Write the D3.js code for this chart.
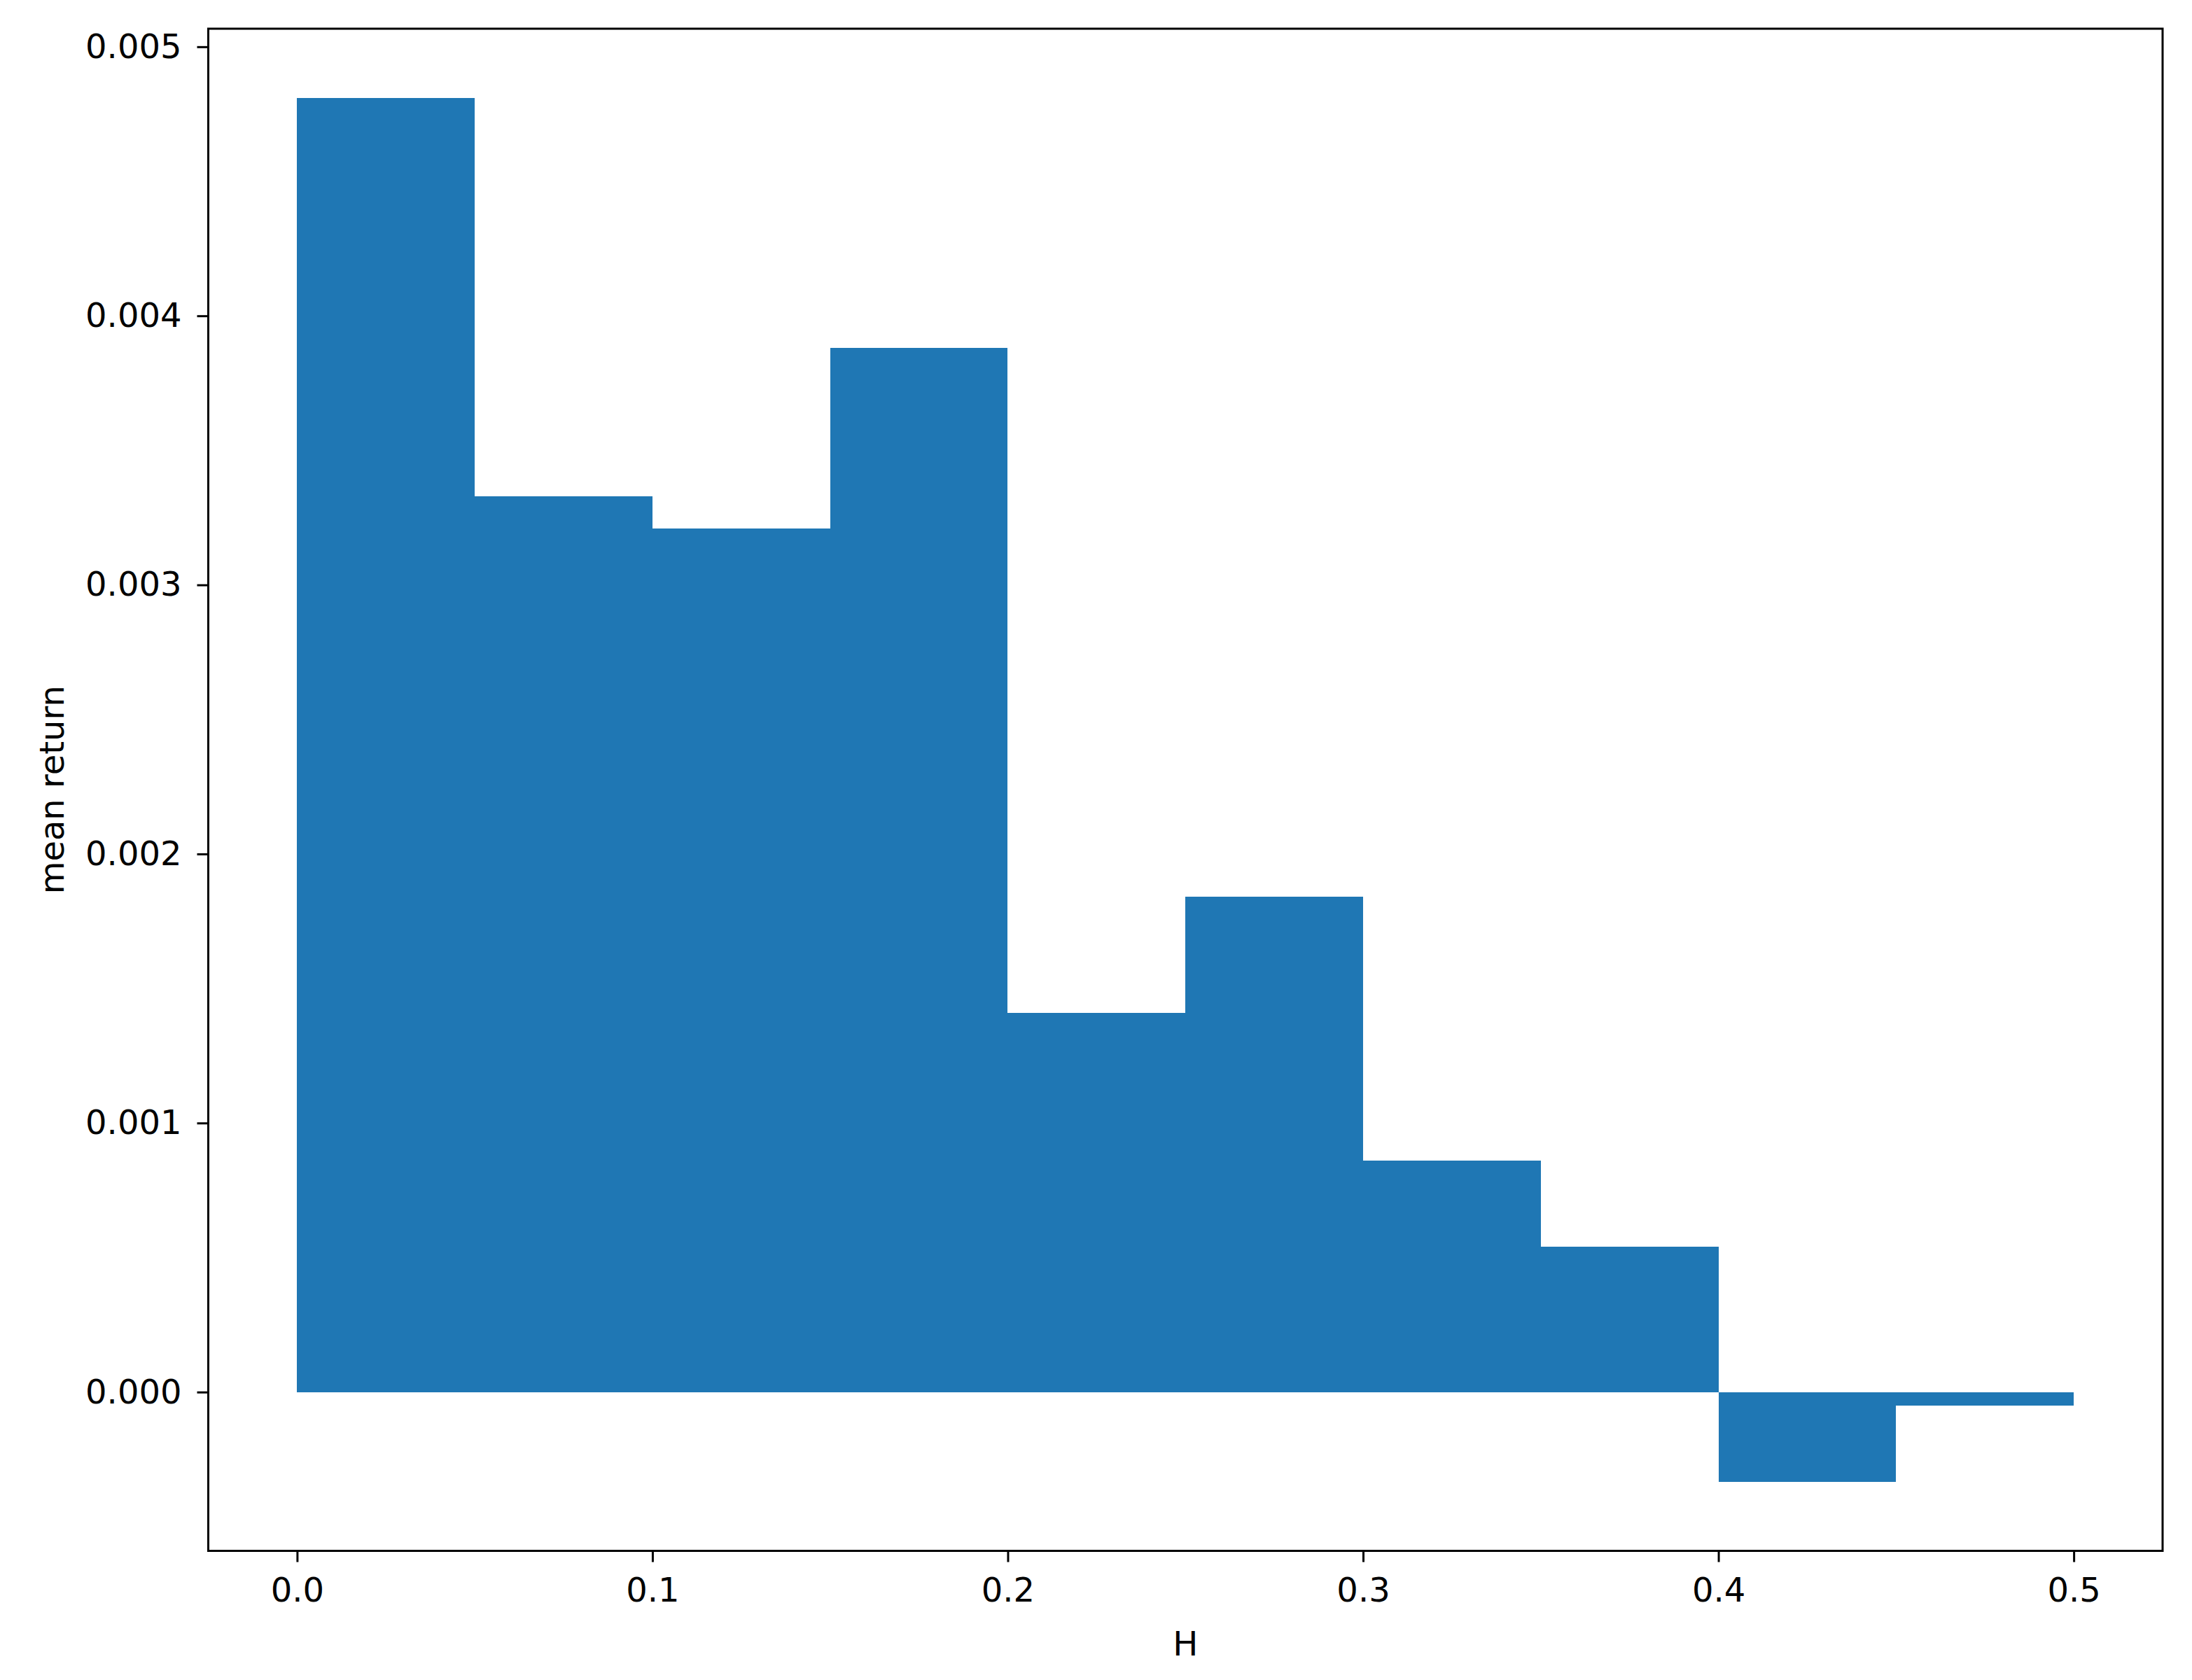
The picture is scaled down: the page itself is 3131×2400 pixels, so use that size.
<!DOCTYPE html>
<html>
<head>
<meta charset="utf-8">
<script src="https://cdn.jsdelivr.net/npm/d3@7"></script>
<style>
  body { margin: 0; background: #fff; }
  svg { display: block; }
  text { font-family: "DejaVu Sans", sans-serif; fill: #000; }
</style>
</head>
<body>
<div id="chart"></div>
<script>
// bins in H and the mean return of each bin
var binLeft = [0.00, 0.05, 0.10, 0.15, 0.20, 0.25, 0.30, 0.35, 0.40, 0.45];
var binWidth = 0.05;
var meanReturn = [0.00481, 0.00333, 0.00321, 0.00388, 0.00141, 0.00184, 0.00086, 0.00054, -0.000333, -0.00005];
var xTicks = [0.0, 0.1, 0.2, 0.3, 0.4, 0.5];
var yTicks = [0.000, 0.001, 0.002, 0.003, 0.004, 0.005];

var W = 3131, H = 2400;
// "top" est déjà pris par window.top
var axLeft = 297.5, axRight = 3089, axTop = 41, axBottom = 2215.5;
var fontsize = 48;
var ticklen = 16;

var svg = d3.select("#chart").append("svg")
  .attr("width", W)
  .attr("height", H);

// marges de 5% comme matplotlib
var x0 = d3.min(binLeft), x1 = d3.max(binLeft) + binWidth;
var xpad = 0.05 * (x1 - x0);
var ymin = Math.min(0, d3.min(meanReturn)), ymax = Math.max(0, d3.max(meanReturn));
var ypad = 0.05 * (ymax - ymin);

var x = d3.scaleLinear().domain([x0 - xpad, x1 + xpad]).range([axLeft, axRight]);
var y = d3.scaleLinear().domain([ymin - ypad, ymax + ypad]).range([axBottom, axTop]);

svg.append("g").selectAll("rect")
  .data(meanReturn)
  .enter().append("rect")
    .attr("x", function(d, i){ return x(binLeft[i]); })
    .attr("width", function(d, i){ return x(binLeft[i] + binWidth) - x(binLeft[i]); })
    .attr("y", function(d){ return y(Math.max(0, d)); })
    .attr("height", function(d){ return Math.abs(y(d) - y(0)); })
    .attr("fill", "#1f77b4")
    .attr("shape-rendering", "crispEdges");

var xAxis = svg.append("g")
  .attr("transform", "translate(0," + axBottom + ")")
  .call(d3.axisBottom(x).tickValues(xTicks).tickFormat(d3.format(".1f")).tickSizeInner(ticklen).tickSizeOuter(0).tickPadding(22));

var yAxis = svg.append("g")
  .attr("transform", "translate(" + axLeft + ",0)")
  .call(d3.axisLeft(y).tickValues(yTicks).tickFormat(d3.format(".3f")).tickSizeInner(ticklen).tickSizeOuter(0).tickPadding(22));

[xAxis, yAxis].forEach(function(a){
  a.select(".domain").remove();
  a.selectAll(".tick line").attr("stroke", "#000").attr("stroke-width", 3);
  a.selectAll(".tick text").attr("font-size", fontsize + "px").attr("font-family", "DejaVu Sans");
});

// cadre
svg.append("rect")
  .attr("x", axLeft)
  .attr("y", axTop)
  .attr("width", axRight - axLeft)
  .attr("height", axBottom - axTop)
  .attr("fill", "none")
  .attr("stroke", "#000")
  .attr("stroke-width", 3);

svg.append("text")
  .attr("x", (axLeft + axRight) / 2)
  .attr("y", 2365)
  .attr("text-anchor", "middle")
  .attr("font-size", fontsize + "px")
  .text("H");

svg.append("text")
  .attr("transform", "translate(91," + (axTop + axBottom) / 2 + ") rotate(-90)")
  .attr("text-anchor", "middle")
  .attr("font-size", fontsize + "px")
  .text("mean return");
</script>
</body>
</html>
